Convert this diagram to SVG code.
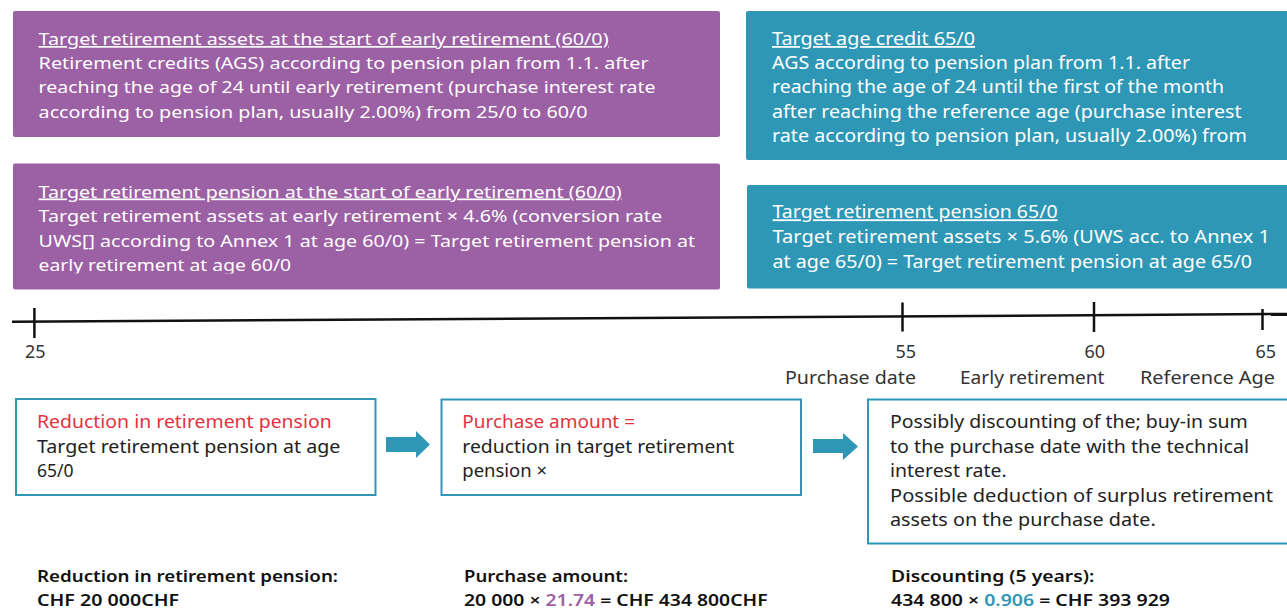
<svg xmlns="http://www.w3.org/2000/svg" width="1287" height="610" viewBox="0 0 1287 610">
<style>
text{font-family:"Noto Sans","Open Sans","Liberation Sans",sans-serif;}
.pw{fill:#ffffff;font-size:17px;}
.tw{fill:#ffffff;font-size:18px;}
.u{text-decoration:underline;}
.purple{fill:#9c60a4;}
.teal{fill:#2e97b5;}
.box{fill:#ffffff;stroke:#2e97b5;stroke-width:2;}
.bt{fill:#222222;font-size:17.5px;}
.red{fill:#e3323e;}
.lab{fill:#333333;font-size:18px;}
.bold{fill:#111111;font-size:16px;font-weight:600;}
.tick{stroke:#111111;stroke-width:2.5;}
</style>
<defs>
<clipPath id="clipP2"><rect x="13" y="163" width="707" height="110.5"/></clipPath>
</defs>

<g id="node-assets-early">
<rect class="purple" x="13" y="11" width="707" height="126" rx="2"/>
<text class="pw u" x="38.6" y="45" textLength="570" lengthAdjust="spacingAndGlyphs">Target retirement assets at the start of early retirement (60/0)</text>
<text class="pw" x="38.6" y="69.3" textLength="610" lengthAdjust="spacingAndGlyphs">Retirement credits (AGS) according to pension plan from 1.1. after</text>
<text class="pw" x="38.6" y="93.3" textLength="617" lengthAdjust="spacingAndGlyphs">reaching the age of 24 until early retirement (purchase interest rate</text>
<text class="pw" x="38.6" y="117.6" textLength="549" lengthAdjust="spacingAndGlyphs">according to pension plan, usually 2.00%) from 25/0 to 60/0</text>
</g>

<g id="node-age-credit">
<rect class="teal" x="746" y="11" width="545" height="149" rx="2"/>
<text class="tw u" x="772" y="45" textLength="203" lengthAdjust="spacingAndGlyphs">Target age credit 65/0</text>
<text class="tw" x="772" y="69.2" textLength="418" lengthAdjust="spacingAndGlyphs">AGS according to pension plan from 1.1. after</text>
<text class="tw" x="772" y="93.4" textLength="452" lengthAdjust="spacingAndGlyphs">reaching the age of 24 until the first of the month</text>
<text class="tw" x="772" y="117.8" textLength="469.5" lengthAdjust="spacingAndGlyphs">after reaching the reference age (purchase interest</text>
<text class="tw" x="772" y="142" textLength="475" lengthAdjust="spacingAndGlyphs">rate according to pension plan, usually 2.00%) from</text>
</g>

<g id="node-pension-early">
<rect class="purple" x="13" y="163.5" width="707" height="126" rx="2"/>
<g clip-path="url(#clipP2)">
<text class="pw u" x="38.6" y="197.5" textLength="583" lengthAdjust="spacingAndGlyphs">Target retirement pension at the start of early retirement (60/0)</text>
<text class="pw" x="38.6" y="221.8" textLength="623.5" lengthAdjust="spacingAndGlyphs">Target retirement assets at early retirement × 4.6% (conversion rate</text>
<text class="pw" x="38.6" y="246.5" textLength="656.5" lengthAdjust="spacingAndGlyphs">UWS[] according to Annex 1 at age 60/0) = Target retirement pension at</text>
<text class="pw" x="38.6" y="271.3" textLength="252.5" lengthAdjust="spacingAndGlyphs">early retirement at age 60/0</text>
</g>
</g>

<g id="node-pension-65">
<rect class="teal" x="747" y="185" width="544" height="103.5" rx="2"/>
<text class="tw u" x="772.6" y="218.3" textLength="285" lengthAdjust="spacingAndGlyphs">Target retirement pension 65/0</text>
<text class="tw" x="772.6" y="243.3" textLength="497.4" lengthAdjust="spacingAndGlyphs">Target retirement assets × 5.6% (UWS acc. to Annex 1</text>
<text class="tw" x="772.6" y="268.3" textLength="479.4" lengthAdjust="spacingAndGlyphs">at age 65/0) = Target retirement pension at age 65/0</text>
</g>

<g id="timeline">
<line x1="12" y1="321.8" x2="1287" y2="314" stroke="#111111" stroke-width="2.5"/>
<line class="tick" x1="34.4" y1="308" x2="34.4" y2="338"/>
<line class="tick" x1="902.5" y1="302.5" x2="902.5" y2="331.5"/>
<line class="tick" x1="1094" y1="302" x2="1094" y2="332"/>
<line class="tick" x1="1262.5" y1="309" x2="1262.5" y2="330"/>
<text class="lab" x="35.2" y="358.3" text-anchor="middle">25</text>
<text class="lab" x="916" y="358.3" text-anchor="end">55</text>
<text class="lab" x="1105" y="358.3" text-anchor="end">60</text>
<text class="lab" x="1276" y="358.3" text-anchor="end">65</text>
<text class="lab" x="785" y="384" textLength="131" lengthAdjust="spacingAndGlyphs">Purchase date</text>
<text class="lab" x="960" y="384" textLength="144.5" lengthAdjust="spacingAndGlyphs">Early retirement</text>
<text class="lab" x="1140" y="384" textLength="135" lengthAdjust="spacingAndGlyphs">Reference Age</text>
</g>

<g id="node-reduction">
<rect class="box" x="16" y="399" width="359.5" height="96"/>
<text class="bt red" x="37" y="427.5" textLength="294.7" lengthAdjust="spacingAndGlyphs">Reduction in retirement pension</text>
<text class="bt" x="37" y="452.7" textLength="303.4" lengthAdjust="spacingAndGlyphs">Target retirement pension at age</text>
<text class="bt" x="37" y="477.3">65/0</text>
</g>

<g id="node-purchase">
<rect class="box" x="441.5" y="399.5" width="359.5" height="95.5"/>
<text class="bt red" x="462.3" y="427.5" textLength="172.7" lengthAdjust="spacingAndGlyphs">Purchase amount =</text>
<text class="bt" x="462.3" y="452.7" textLength="272" lengthAdjust="spacingAndGlyphs">reduction in target retirement</text>
<text class="bt" x="462.3" y="477.3" textLength="84.7" lengthAdjust="spacingAndGlyphs">pension ×</text>
</g>

<g id="node-discount">
<rect class="box" x="868" y="399.5" width="425" height="144"/>
<text class="bt" x="890" y="428.3" textLength="357.7" lengthAdjust="spacingAndGlyphs">Possibly discounting of the; buy-in sum</text>
<text class="bt" x="890" y="453.3" textLength="359" lengthAdjust="spacingAndGlyphs">to the purchase date with the technical</text>
<text class="bt" x="890" y="477.3" textLength="116.7" lengthAdjust="spacingAndGlyphs">interest rate.</text>
<text class="bt" x="890" y="501.7" textLength="383" lengthAdjust="spacingAndGlyphs">Possible deduction of surplus retirement</text>
<text class="bt" x="890" y="525.7" textLength="265.7" lengthAdjust="spacingAndGlyphs">assets on the purchase date.</text>
</g>

<g id="connectors">
<polygon class="teal" points="386,437 416,437 416,431 430,444.5 416,458 416,452 386,452"/>
<polygon class="teal" points="813,439 843,439 843,433 858,446.5 843,460 843,453 813,453"/>
</g>

<g id="results">
<text class="bold" x="37" y="581.7" textLength="301" lengthAdjust="spacingAndGlyphs">Reduction in retirement pension:</text>
<text class="bold" x="37" y="606" textLength="142" lengthAdjust="spacingAndGlyphs">CHF 20 000CHF</text>
<text class="bold" x="464" y="581.7" textLength="164" lengthAdjust="spacingAndGlyphs">Purchase amount:</text>
<text class="bold" x="464" y="606" textLength="303.6" lengthAdjust="spacingAndGlyphs">20 000 × <tspan fill="#9c60a4">21.74</tspan> = CHF 434 800CHF</text>
<text class="bold" x="891" y="581.7" textLength="203.4" lengthAdjust="spacingAndGlyphs">Discounting (5 years):</text>
<text class="bold" x="891" y="606" textLength="279" lengthAdjust="spacingAndGlyphs">434 800 × <tspan fill="#2e97b5">0.906</tspan> = CHF 393 929</text>
</g>
</svg>
